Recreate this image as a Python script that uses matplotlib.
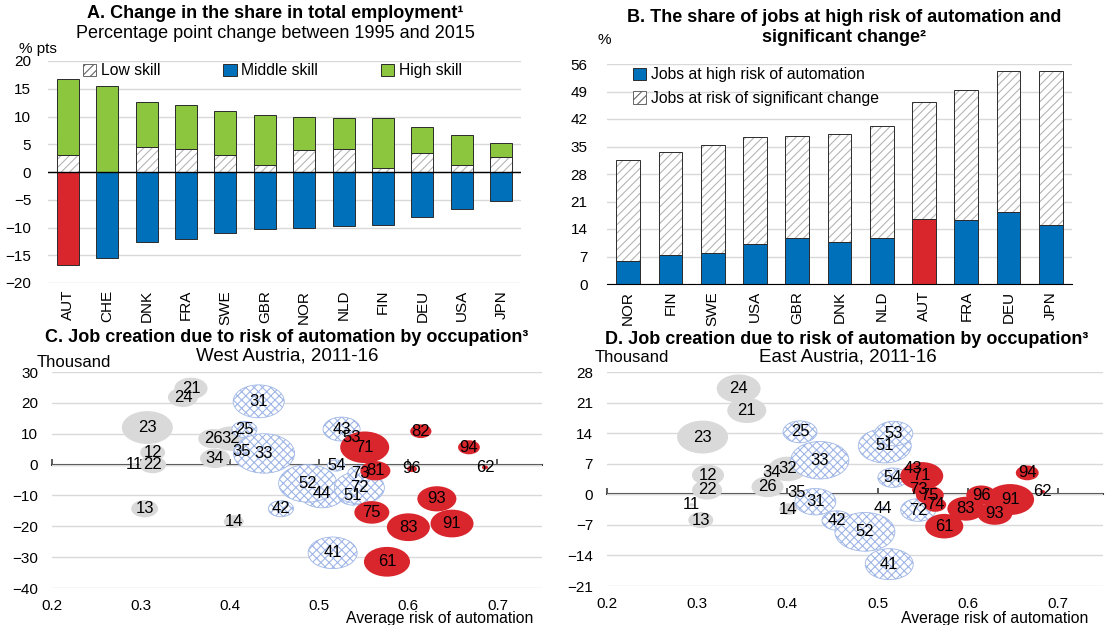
import numpy as np
import matplotlib.pyplot as plt
from matplotlib.patches import Patch
from matplotlib.path import Path
from matplotlib.transforms import Affine2D

plt.rcParams['font.family'] = ['Liberation Sans', 'DejaVu Sans']
plt.rcParams['font.size'] = 10.5
plt.rcParams['hatch.linewidth'] = 0.8

# ---- Panel A: change in employment share, 1995-2015 (% pts)
a_countries = ["AUT", "CHE", "DNK", "FRA", "SWE", "GBR", "NOR", "NLD", "FIN", "DEU", "USA", "JPN"]
a_low = [3.0, 0.0, 4.5, 4.2, 3.0, 1.2, 4.0, 4.2, 0.8, 3.5, 1.3, 2.7]
a_high = [13.8, 15.5, 8.2, 7.9, 8.0, 9.1, 6.0, 5.5, 8.9, 4.6, 5.3, 2.5]
a_middle = [-16.8, -15.5, -12.7, -12.1, -11.0, -10.2, -10.0, -9.7, -9.6, -8.1, -6.6, -5.2]

# ---- Panel B: share of jobs at risk (%)
b_countries = ["NOR", "FIN", "SWE", "USA", "GBR", "DNK", "NLD", "AUT", "FRA", "DEU", "JPN"]
b_high_risk = [5.8, 7.3, 8.0, 10.2, 11.8, 10.8, 11.7, 16.6, 16.4, 18.3, 15.0]
b_change = [25.7, 26.4, 27.5, 27.1, 26.0, 27.5, 28.5, 29.7, 32.9, 36.0, 39.3]

# ---- Panel C: West Austria, 2011-16
c_occ = [11, 12, 13, 14, 21, 22, 23, 24, 25, 26, 31, 32, 33, 34, 35, 41, 42, 43, 44,
         51, 52, 53, 54, 61, 62, 71, 72, 73, 75, 81, 82, 83, 91, 93, 94, 96]
c_risk = [0.292, 0.313, 0.304, 0.404, 0.356, 0.313, 0.307, 0.347, 0.416, 0.381, 0.432, 0.401,
          0.438, 0.383, 0.413, 0.515, 0.457, 0.525, 0.503, 0.538, 0.487, 0.536, 0.519, 0.576,
          0.686, 0.551, 0.545, 0.546, 0.559, 0.563, 0.614, 0.600, 0.649, 0.632, 0.668, 0.604]
c_jobs = [0.0, 3.9, -14.3, -18.5, 24.7, 0.0, 12.0, 21.8, 11.4, 8.4, 20.5, 8.4,
          3.6, 2.0, 4.2, -28.6, -14.3, 11.5, -9.3, -10.0, -6.1, 8.8, -0.3, -31.5,
          -0.9, 5.6, -7.5, -2.9, -15.5, -2.0, 10.8, -20.3, -19.1, -11.1, 5.6, -1.4]
c_emp = [1, 25, 29, 16, 44, 29, 104, 36, 25, 36, 104, 58, 149, 36, 3, 96, 25, 55, 81,
         36, 135, 4, 12, 85, 1.5, 96, 100, 25, 49, 36, 18, 74, 74, 61, 19, 4]
c_group = ["low", "low", "low", "low", "low", "low", "low", "low", "mid", "low", "mid", "low",
           "mid", "low", "mid", "mid", "mid", "mid", "mid", "mid", "mid", "mid", "mid", "high",
           "high", "high", "mid", "mid", "high", "high", "high", "high", "high", "high", "high", "high"]

# ---- Panel D: East Austria, 2011-16
d_occ = [11, 12, 13, 14, 21, 22, 23, 24, 25, 26, 31, 32, 33, 34, 35, 41, 42, 43, 44,
         51, 52, 53, 54, 61, 62, 71, 72, 73, 74, 75, 83, 91, 93, 94, 96]
d_risk = [0.294, 0.312, 0.304, 0.401, 0.355, 0.311, 0.306, 0.346, 0.414, 0.378, 0.431, 0.400,
          0.436, 0.382, 0.410, 0.513, 0.455, 0.539, 0.506, 0.508, 0.486, 0.518, 0.517, 0.574,
          0.683, 0.549, 0.545, 0.545, 0.564, 0.558, 0.598, 0.647, 0.630, 0.666, 0.615]
d_jobs = [-2.4, 4.4, -5.9, -3.4, 19.2, 1.0, 13.1, 24.2, 14.3, 1.7, -1.7, 5.8,
          7.8, 4.9, 0.3, -16.0, -6.0, 5.8, -3.3, 11.1, -8.6, 13.9, 3.8, -7.3,
          0.6, 4.2, -3.6, 1.0, -2.4, -0.2, -3.3, -1.2, -4.4, 4.9, -0.2]
d_emp = [1, 41, 25, 13, 61, 36, 104, 77, 46, 41, 67, 58, 135, 9, 6, 92, 36, 6, 1,
         112, 144, 58, 36, 58, 1, 74, 49, 6, 19, 31, 55, 92, 49, 21, 36]
d_group = ["low", "low", "low", "low", "low", "low", "low", "low", "mid", "low", "mid", "low",
           "mid", "low", "low", "mid", "mid", "high", "mid", "mid", "mid", "mid", "mid", "high",
           "high", "high", "mid", "high", "high", "high", "high", "high", "high", "high", "high"]

BLUE = "#0070bb"
GREEN = "#8cc63f"
RED = "#d9262d"
GRID = "#d9d9d9"
HATCH_GREY = "#b5b5b5"
EDGE = "#2b2b2b"
TITLE_FS = 13
LEG_FS = 11.3

fig = plt.figure(figsize=(11.05, 6.25), dpi=100)
W, H = 1105, 625


def ftext(x, y, s, **kw):
    fig.text(x / W, 1 - y / H, s, **kw)


def grid_only(ax):
    for sp in ax.spines.values():
        sp.set_visible(False)
    ax.yaxis.grid(True, color=GRID, lw=1)
    ax.set_axisbelow(True)
    ax.tick_params(length=0)


# ================= Panel A
axA = fig.add_axes([48 / W, 1 - 283 / H, 473 / W, 222 / H])
grid_only(axA)
x = np.arange(len(a_countries))
bw = 0.56
axA.bar(x, a_low, bw, color="white", edgecolor=HATCH_GREY, hatch="////", lw=0)
axA.bar(x, a_low, bw, fill=False, edgecolor=EDGE, lw=0.7)
mid_colors = [RED if c == "AUT" else BLUE for c in a_countries]
axA.bar(x, a_middle, bw, color=mid_colors, edgecolor=EDGE, lw=0.7)
axA.bar(x, a_high, bw, bottom=a_low, color=GREEN, edgecolor=EDGE, lw=0.7)
axA.axhline(0, color="black", lw=1)
axA.set_xlim(-0.5, len(a_countries) - 0.5)
axA.set_ylim(-20, 20)
axA.set_yticks(range(-20, 21, 5))
axA.set_xticks(x)
axA.set_xticklabels(a_countries, rotation=90, fontsize=11)
axA.tick_params(axis="y", pad=12, labelsize=11)
axA.tick_params(axis="x", pad=5)
hA = [Patch(facecolor="white", edgecolor="#666666", hatch="////", lw=0.7),
      Patch(facecolor=BLUE, edgecolor=EDGE, lw=0.7),
      Patch(facecolor=GREEN, edgecolor=EDGE, lw=0.7)]
axA.legend(hA, ["Low skill", "Middle skill", "High skill"], ncol=3, loc="upper left",
           bbox_to_anchor=(0.074, 0.99), frameon=False, handlelength=0.85, handleheight=0.85,
           handletextpad=0.3, columnspacing=4.0, borderaxespad=0, borderpad=0,
           fontsize=LEG_FS)
ftext(275, 13, "A. Change in the share in total employment¹", ha="center", va="center",
      fontweight="bold", fontsize=TITLE_FS)
ftext(275, 33, "Percentage point change between 1995 and 2015", ha="center", va="center",
      fontsize=TITLE_FS)
ftext(19, 49, "% pts", ha="left", va="center", fontsize=11)

# ================= Panel B
axB = fig.add_axes([607 / W, 1 - 284 / H, 465 / W, 220 / H])
grid_only(axB)
xb = np.arange(len(b_countries))
risk_colors = [RED if c == "AUT" else BLUE for c in b_countries]
axB.bar(xb, b_high_risk, bw, color=risk_colors, edgecolor=EDGE, lw=0.7)
axB.bar(xb, b_change, bw, bottom=b_high_risk, color="white", edgecolor=HATCH_GREY,
        hatch="////", lw=0)
axB.bar(xb, b_change, bw, bottom=b_high_risk, fill=False, edgecolor=EDGE, lw=0.7)
axB.spines["bottom"].set_visible(True)
axB.spines["bottom"].set_color("black")
axB.set_xlim(-0.5, len(b_countries) - 0.5)
axB.set_ylim(0, 56)
axB.set_yticks(range(0, 57, 7))
axB.set_xticks(xb)
axB.set_xticklabels(b_countries, rotation=90, fontsize=11)
axB.tick_params(axis="y", pad=14, labelsize=11)
axB.tick_params(axis="x", pad=5)
hB = [Patch(facecolor=BLUE, edgecolor=EDGE, lw=0.7),
      Patch(facecolor="white", edgecolor="#666666", hatch="////", lw=0.7)]
axB.legend(hB, ["Jobs at high risk of automation", "Jobs at risk of significant change"],
           loc="upper left", bbox_to_anchor=(0.056, 0.985), frameon=False, handlelength=0.85,
           handleheight=0.85, handletextpad=0.3, labelspacing=0.55, borderaxespad=0,
           borderpad=0, fontsize=LEG_FS)
ftext(844, 18, "B. The share of jobs at high risk of automation and", ha="center",
      va="center", fontweight="bold", fontsize=TITLE_FS)
ftext(844, 37, "significant change²", ha="center", va="center", fontweight="bold",
      fontsize=TITLE_FS)
ftext(597, 40, "%", ha="left", va="center", fontsize=11)

# ================= Panels C and D (bubbles)
ellipse = Path(Affine2D().scale(1, 1 / 1.55).transform_path(Path.unit_circle()).vertices,
               Path.unit_circle().codes)
styles = {
    "low": dict(facecolor="#d9d9d9", edgecolor="none"),
    "mid": dict(facecolor="white", edgecolor="#9fb6e6", hatch="xxxx", linewidths=0.6),
    "high": dict(facecolor=RED, edgecolor="none"),
}
XTICKS = [0.2, 0.3, 0.4, 0.5, 0.6, 0.7]


def bubble_panel(ax, occ, risk, jobs, emp, group, yticks):
    grid_only(ax)
    risk = np.array(risk)
    jobs = np.array(jobs)
    emp = np.array(emp, dtype=float)
    grp = np.array(group)
    ax.set_xlim(0.2, 0.75)
    ax.set_ylim(yticks[0], yticks[-1])
    ax.set_yticks(yticks)
    ax.set_xticks(XTICKS)
    ax.set_xticklabels([f"{t:.1f}" for t in XTICKS])
    ax.tick_params(axis="x", pad=8, labelsize=11)
    ax.tick_params(axis="y", pad=10, labelsize=11)
    # horizontal axis line crossing at zero, with its tick marks
    frac = (0 - yticks[0]) / (yticks[-1] - yticks[0])
    sec = ax.secondary_xaxis(frac)
    sec.set_alignment("bottom")
    sec.set_xticks(XTICKS, labels=[""] * len(XTICKS))
    sec.tick_params(direction="in", length=4, width=1.2, color="#404040")
    for sp in sec.spines.values():
        sp.set_color("#404040")
        sp.set_linewidth(1.5)
    plt.rcParams["hatch.color"] = "#9fb6e6"
    for g, z in (("low", 2), ("mid", 3), ("high", 4)):
        m = grp == g
        ax.scatter(risk[m], jobs[m], s=emp[m] * 12.96, marker=ellipse, zorder=z, **styles[g])
    for o, xv, yv in zip(occ, risk, jobs):
        ax.text(xv, yv, str(o), ha="center", va="center", zorder=6, fontsize=12)


axC = fig.add_axes([52 / W, 1 - 588 / H, 490 / W, 216 / H])
bubble_panel(axC, c_occ, c_risk, c_jobs, c_emp, c_group, list(range(-40, 31, 10)))
ftext(287, 338, "C. Job creation due to risk of automation by occupation³", ha="center",
      va="center", fontweight="bold", fontsize=TITLE_FS)
ftext(287, 356, "West Austria, 2011-16", ha="center", va="center", fontsize=13.5)
ftext(37, 362, "Thousand", ha="left", va="center", fontsize=12)
ftext(533, 618, "Average risk of automation", ha="right", va="center", fontsize=11.3)

axD = fig.add_axes([607 / W, 1 - 586 / H, 496 / W, 214 / H])
bubble_panel(axD, d_occ, d_risk, d_jobs, d_emp, d_group, list(range(-21, 29, 7)))
ftext(847, 340, "D. Job creation due to risk of automation by occupation³", ha="center",
      va="center", fontweight="bold", fontsize=TITLE_FS)
ftext(848, 357, "East Austria, 2011-16", ha="center", va="center", fontsize=13.5)
ftext(595, 357, "Thousand", ha="left", va="center", fontsize=12)
ftext(1088, 618, "Average risk of automation", ha="right", va="center", fontsize=11.3)

fig.savefig("out.png", dpi=100)
